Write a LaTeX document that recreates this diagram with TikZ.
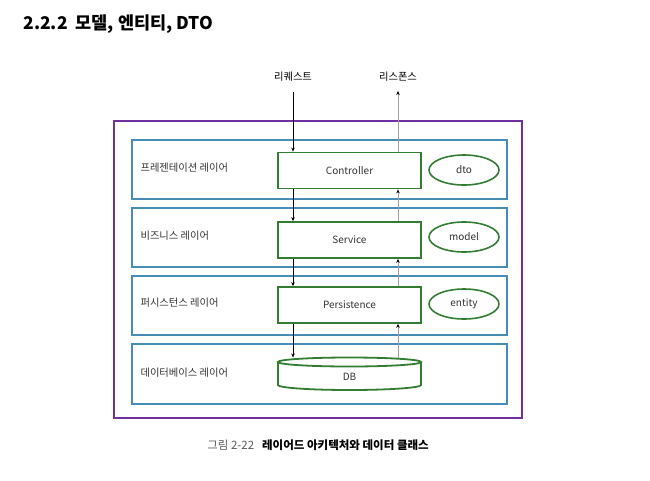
\documentclass[tikz,border=0pt]{standalone}
\usepackage{fontspec}
\setmainfont{Noto Sans CJK KR}
\usetikzlibrary{arrows.meta,shapes.geometric}
\definecolor{outerc}{RGB}{112,48,160}
\definecolor{layerc}{RGB}{70,140,180}
\definecolor{compc}{RGB}{50,125,50}
\definecolor{resc}{RGB}{160,160,160}
\definecolor{capg}{RGB}{90,90,90}
\begin{document}
\begin{tikzpicture}[x=1pt,y=-1pt,
  layerbox/.style={draw=layerc,line width=1.6pt},
  compbox/.style={draw=compc,line width=1.8pt,minimum width=143pt,minimum height=36pt,inner sep=0pt,font=\fontsize{10}{12}\selectfont,text=black!80},
  dataell/.style={ellipse,draw=compc,line width=1.6pt,minimum width=70pt,minimum height=30pt,inner sep=0pt,font=\fontsize{10}{12}\selectfont,text=black!80},
  laylabel/.style={anchor=west,font=\fontsize{10.3}{12}\selectfont,text=black!80},
  req/.style={-{Stealth[length=4pt,width=3.5pt]},line width=0.5pt,black},
  res/.style={-{Stealth[length=4pt,width=3.5pt,color=black]},line width=0.8pt,resc},
]
\useasboundingbox (0,0) rectangle (650,480);
\node[anchor=west,font=\fontsize{17.5}{20}\selectfont\bfseries] (title) at (20,24) {2.2.2\hspace{8pt}모델, 엔티티, DTO};

\draw[draw=outerc,line width=1.7pt] (114,121) rectangle (522,418);
\draw[layerbox] (132,140) rectangle (507,199);
\draw[layerbox] (132,208) rectangle (507,267);
\draw[layerbox] (132,276) rectangle (507,335);
\draw[layerbox] (132,344) rectangle (507,404);

\node[laylabel] (l1) at (137,168) {프레젠테이션 레이어};
\node[laylabel] (l2) at (137,236) {비즈니스 레이어};
\node[laylabel] (l3) at (137,303) {퍼시스턴스 레이어};
\node[laylabel] (l4) at (137,373) {데이터베이스 레이어};

\node[compbox,draw] (ctrl) at (349.5,170.5) {Controller};
\node[compbox,draw] (svc) at (349.5,240) {Service};
\node[compbox,draw] (pers) at (349.5,305) {Persistence};

% DB cylinder
\draw[draw=compc,line width=1.8pt] (278,362) -- (278,385) arc[start angle=180,end angle=0,x radius=71.5,y radius=5] -- (421,362);
\draw[draw=compc,line width=1.8pt] (349.5,362) ellipse[x radius=71.5,y radius=4.5];
\node[font=\fontsize{10}{12}\selectfont,text=black!80] (db) at (349.5,377) {DB};
\coordinate (dbtop) at (349.5,357.5);

\node[dataell] (dto) at (464,170) {dto};
\node[dataell] (model) at (464,237) {model};
\node[dataell] (entity) at (464,304) {entity};

\node[font=\fontsize{10.3}{12}\selectfont] (rq) at (293,77) {리퀘스트};
\node[font=\fontsize{10.3}{12}\selectfont] (rs) at (398,77) {리스폰스};

\coordinate (rqs) at (293,92);
\coordinate (rse) at (398,91);
\draw[req] (rqs) -- (rqs |- ctrl.north);
\draw[req] (ctrl.south -| rqs) -- (svc.north -| rqs);
\draw[req] (svc.south -| rqs) -- (pers.north -| rqs);
\draw[req] (pers.south -| rqs) -- (dbtop -| rqs);

\draw[res] (dbtop -| rse) -- (pers.south -| rse);
\draw[res] (pers.north -| rse) -- (svc.south -| rse);
\draw[res] (svc.north -| rse) -- (ctrl.south -| rse);
\draw[res] (ctrl.north -| rse) -- (rse);

\node[font=\fontsize{11.5}{13}\selectfont] (cap) at (318,445) {\textcolor{capg}{그림 2-22}\hspace{8pt}\textbf{레이어드 아키텍처와 데이터 클래스}};
\end{tikzpicture}
\end{document}
